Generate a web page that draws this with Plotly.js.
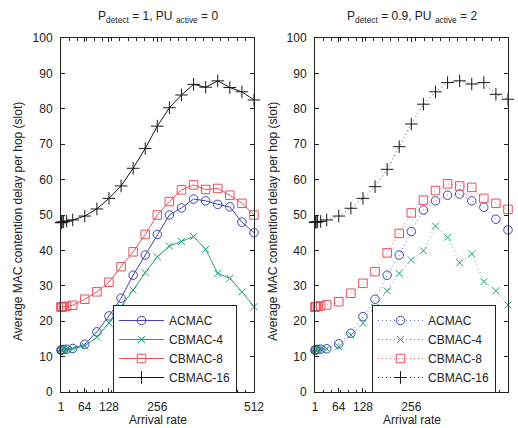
<!DOCTYPE html>
<html><head><meta charset="utf-8">
<script src="https://cdn.plot.ly/plotly-3.0.1.min.js"></script>
<style>html,body{margin:0;padding:0;background:#fff}#chart{width:518px;height:428px}</style>
</head><body><div id="chart"></div>
<script>
const arrivalRate = [1,2,4,8,16,32,64,96,128,160,192,224,256,288,320,352,384,416,448,480,512];
const tickLabels = [1,64,128,256,512];
const seriesNames = ['ACMAC','CBMAC-4','CBMAC-8','CBMAC-16'];

// Left panel: P_detect = 1, PU_active = 0
const acmacLeft = [11.8,11.9,12.0,12.0,12.1,12.3,13.5,17.0,21.5,26.5,33.0,38.7,44.5,50.0,52.0,54.5,54.0,53.0,52.3,48.0,45.0];
const cbmac4Left = [11.8,11.9,12.0,12.0,12.1,12.2,13.0,15.5,19.5,24.0,28.8,33.7,38.2,41.2,42.5,43.9,40.3,33.5,32.1,28.3,24.1];
const cbmac8Left = [24.0,24.0,24.1,24.1,24.2,24.5,26.2,28.3,31.0,35.4,39.6,44.5,50.0,53.8,57.1,58.5,57.2,57.5,55.6,53.3,50.0];
const cbmac16Left = [47.8,47.9,48.0,48.1,48.3,48.6,49.7,51.7,54.7,58.2,63.2,68.8,75.1,80.3,83.9,86.9,86.1,87.9,86.0,84.8,82.5];

// Right panel: P_detect = 0.9, PU_active = 2
const acmacRight = [11.8,11.9,12.0,12.0,12.1,12.2,13.6,16.6,21.3,26.2,33.0,38.7,45.3,51.4,54.0,55.6,55.9,54.0,52.2,48.8,45.8];
const cbmac4Right = [11.8,11.9,12.0,12.0,12.1,12.2,12.8,16.1,19.4,23.9,28.6,33.5,37.3,39.9,46.9,43.7,36.5,39.0,31.2,28.6,24.6];
const cbmac8Right = [24.0,24.1,24.1,24.2,24.3,24.6,25.5,27.9,30.7,34.0,39.3,44.8,50.6,54.2,56.9,58.8,58.2,57.8,54.7,53.3,51.6];
const cbmac16Right = [47.9,48.0,48.0,48.1,48.2,48.6,49.7,51.9,54.7,58.0,62.9,69.3,75.7,81.3,84.8,87.4,87.9,87.0,87.4,84.1,82.7];

const colors = ['#4044b4','#22a072','#e6505e','#1a1a1a'];
const symbols = ['circle-open','x-thin-open','square-open','cross-thin-open'];
const sizes = [8.5,7,8.5,9];

const leftData = [acmacLeft, cbmac4Left, cbmac8Left, cbmac16Left];
const rightData = [acmacRight, cbmac4Right, cbmac8Right, cbmac16Right];

const traces = [];
leftData.forEach((ys,i)=>{
  traces.push({x:arrivalRate, y:ys, name:seriesNames[i], type:'scatter', mode:'lines+markers',
    xaxis:'x', yaxis:'y', legend:'legend', cliponaxis:false,
    line:{color:colors[i], width:1},
    marker:{symbol:symbols[i], size:sizes[i], color:colors[i], line:{color:colors[i], width:1}}});
});
rightData.forEach((ys,i)=>{
  traces.push({x:arrivalRate, y:ys, name:seriesNames[i], type:'scatter', mode:'lines+markers',
    xaxis:'x2', yaxis:'y2', legend:'legend2', cliponaxis:false,
    line:{color:colors[i], width:0.8, dash:'1px,3px'},
    marker:{symbol:symbols[i], size:sizes[i], color:colors[i], line:{color:colors[i], width:1}}});
});

const W=518, H=428;
const font = {family:'Liberation Sans, Arial, sans-serif', size:12, color:'#222'};
function xax(d0,d1,anchor){
  return {domain:[d0/W,d1/W], anchor:anchor, range:[1,512], tickmode:'array', tickvals:tickLabels,
    ticktext:tickLabels.map(String), ticks:'inside', ticklen:4, tickcolor:'#222', showline:true,
    linecolor:'#222', linewidth:1, mirror:'allticks', showgrid:false, zeroline:false,
    ticklabelstandoff:4, tickfont:font,
    minor:{tickmode:'linear', tick0:1, dtick:511/23, ticks:'inside', ticklen:2.5, tickcolor:'#222', showgrid:false}};
}
function yax(anchor){
  return {domain:[36/H, 390/H], anchor:anchor, range:[0,100], dtick:10, tick0:0, ticks:'inside',
    ticklen:4, tickcolor:'#222', showline:true, linecolor:'#222', linewidth:1, mirror:'allticks',
    showgrid:false, zeroline:false, ticklabelstandoff:5, tickfont:font};
}
const legendBase = {bgcolor:'#fff', bordercolor:'#222', borderwidth:1, font:font, itemwidth:45,
  tracegroupgap:0, traceorder:'normal', xanchor:'left', yanchor:'top'};

const yTitle = 'Average MAC contention delay per hop (slot)';
const layout = {
  width:W, height:H, margin:{l:0,r:0,t:0,b:0}, paper_bgcolor:'#fff', plot_bgcolor:'#fff',
  font:font, showlegend:true,
  xaxis:xax(61,254,'y'), yaxis:yax('x'),
  xaxis2:xax(315,508,'y2'), yaxis2:yax('x2'),
  legend:Object.assign({x:113/W, y:1-305/H}, legendBase),
  legend2:Object.assign({x:372/W, y:1-305/H}, legendBase),
  annotations:[
    {text:'P<sub>detect</sub> = 1, PU <sub>active</sub> = 0', x:157.5/W, y:1-17/H, xref:'paper', yref:'paper', showarrow:false, xanchor:'center', yanchor:'middle', font:font},
    {text:'P<sub>detect</sub> = 0.9, PU <sub>active</sub> = 2', x:411.5/W, y:1-17/H, xref:'paper', yref:'paper', showarrow:false, xanchor:'center', yanchor:'middle', font:font},
    {text:'Arrival rate', x:157.5/W, y:1-420/H, xref:'paper', yref:'paper', showarrow:false, xanchor:'center', yanchor:'middle', font:font},
    {text:'Arrival rate', x:411.5/W, y:1-420/H, xref:'paper', yref:'paper', showarrow:false, xanchor:'center', yanchor:'middle', font:font},
    {text:yTitle, x:18/W, y:1-222/H, xref:'paper', yref:'paper', showarrow:false, textangle:-90, xanchor:'center', yanchor:'middle', font:font},
    {text:yTitle, x:273/W, y:1-222/H, xref:'paper', yref:'paper', showarrow:false, textangle:-90, xanchor:'center', yanchor:'middle', font:font}
  ]
};
Plotly.newPlot('chart', traces, layout, {displayModeBar:false, staticPlot:true});
</script></body></html>
